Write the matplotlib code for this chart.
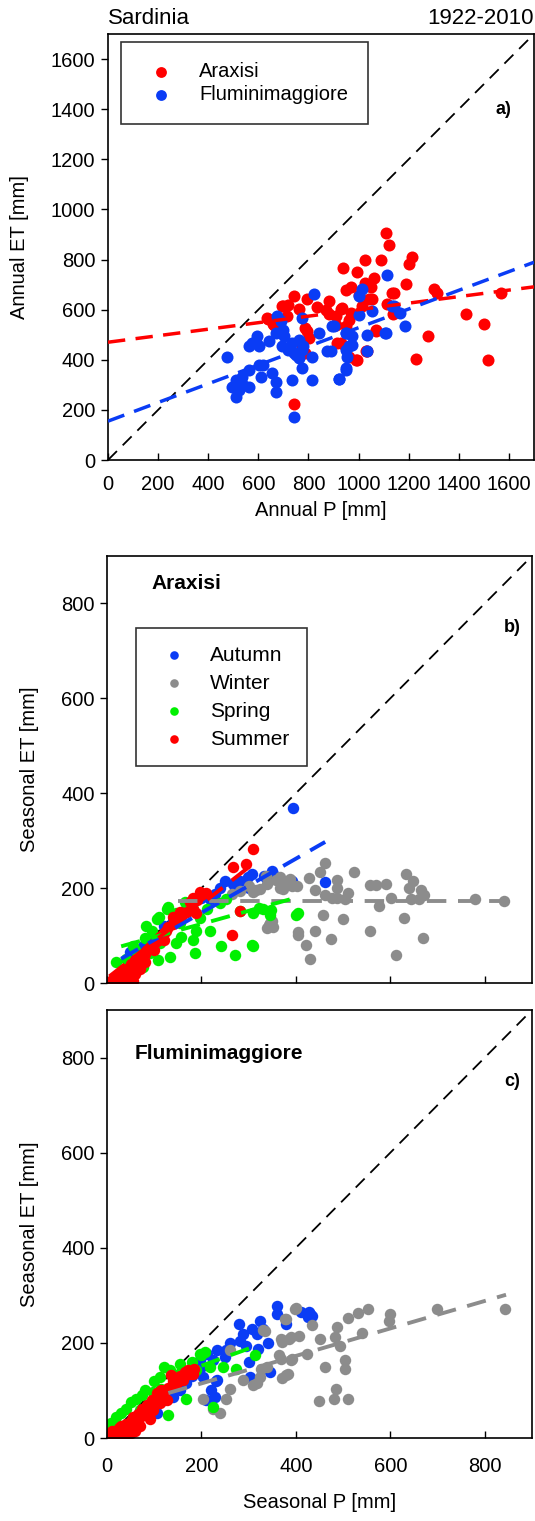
import matplotlib
matplotlib.use("Agg")
import matplotlib.pyplot as plt
import numpy as np

plt.rcParams["font.family"] = ["Liberation Sans", "DejaVu Sans"]

# ---- panel a: annual values (mm) ----
ara_p = [1111, 1121, 1088, 1024, 939, 994, 1061, 968, 948, 1024, 1054, 1134, 742, 795, 882,
         696, 835, 762, 928, 882, 968, 715, 636, 662, 788, 908, 948, 802, 915, 948, 775, 788,
         1028, 994, 1068, 742, 1214, 1201, 1190, 1300, 1314, 1570, 1143, 1041, 935, 1015, 1114,
         1137, 908, 961, 1430, 1502, 1068, 1278, 928, 1034, 988, 961, 1231, 1517, 638, 658, 699,
         793, 1000, 1050, 870, 720]
ara_et = [906, 856, 798, 798, 766, 749, 726, 692, 679, 708, 641, 668, 654, 641, 634,
          614, 611, 601, 601, 581, 587, 574, 567, 540, 527, 540, 534, 487, 466, 446, 453, 426,
          433, 399, 520, 222, 809, 782, 701, 681, 665, 668, 668, 641, 607, 614, 621,
          581, 574, 560, 583, 544, 513, 493, 466, 433, 399, 413, 403, 399, 562, 542, 615,
          516, 660, 690, 600, 620]
flu_p = [1114, 1014, 1001, 822, 1134, 1054, 1001, 775, 675, 689, 669, 895, 842, 948, 975,
         1034, 1107, 596, 576, 563, 602, 642, 702, 696, 735, 762, 775, 742, 762, 775, 815, 875,
         948, 955, 975, 948, 922, 1034, 476, 602, 563, 536, 509, 496, 523, 563, 509, 656, 669,
         669, 735, 815, 742, 1141, 1167, 1187, 1110, 902, 949, 961, 888, 948, 921, 620, 590,
         720, 750, 780, 700, 540, 610]
flu_et = [738, 681, 654, 664, 614, 594, 577, 567, 574, 554, 507, 534, 507, 507, 493,
          500, 507, 493, 466, 453, 453, 473, 493, 453, 466, 480, 440, 426, 406, 366, 413, 433,
          440, 413, 460, 366, 325, 433, 413, 379, 359, 332, 319, 292, 278, 292, 252, 346, 312,
          272, 319, 319, 170, 614, 587, 533, 507, 533, 507, 453, 433, 359, 325, 380, 470,
          440, 420, 455, 520, 300, 330]
# fitted lines: intercept, slope
ara_fit = [470, 0.13]
flu_fit = [155, 0.373]

# ---- panel b: Araxisi seasonal values (mm) ----
b_aut_p = [394, 352, 299, 281, 267, 338, 239, 228, 218, 154, 48, 76, 462, 350, 332, 308, 392,
           250, 270, 300, 200, 180, 120, 100, 140, 160, 60, 85]
b_aut_et = [369, 230, 223, 216, 208, 219, 201, 187, 176, 134, 66, 77, 213, 236, 226, 229, 215,
            215, 195, 200, 180, 160, 120, 100, 130, 150, 55, 80]
b_win_p = [387, 366, 338, 324, 310, 281, 264, 373, 402, 345, 352, 405, 462, 451, 427, 488, 524,
           488, 488, 510, 503, 476, 462, 441, 556, 570, 591, 633, 647, 640, 664, 671, 661, 643,
           601, 577, 780, 841, 458, 500, 629, 404, 441, 474, 556, 670, 422, 430, 612, 343, 350,
           339, 367, 381, 336, 357, 315, 301, 392]
b_win_et = [219, 223, 208, 198, 191, 194, 187, 198, 205, 127, 119, 102, 252, 233, 222, 218, 234,
            201, 179, 190, 176, 179, 186, 197, 206, 206, 208, 229, 215, 201, 197, 186, 176, 176,
            179, 162, 176, 172, 144, 135, 138, 108, 110, 92, 110, 94, 80, 51, 60, 122, 130,
            115, 201, 211, 226, 218, 197, 204, 204]
b_spr_p = [126, 147, 182, 211, 239, 253, 281, 310, 331, 345, 401, 196, 154, 189, 182, 147, 112,
           90, 108, 133, 76, 242, 186, 271, 310, 157, 218, 55, 83, 105, 322, 347, 404, 308, 60,
           40, 20, 80, 95, 110, 130, 165]
b_spr_et = [155, 148, 155, 155, 169, 176, 152, 148, 155, 144, 144, 137, 127, 109, 91, 84, 84,
            63, 48, 55, 34, 77, 63, 59, 77, 98, 109, 77, 120, 134, 158, 154, 147, 80, 70,
            50, 45, 95, 110, 140, 160, 170]
b_sum_p = [5, 12, 20, 25, 30, 35, 40, 45, 50, 55, 60, 65, 70, 75, 80, 85, 90, 95, 100, 105,
           110, 115, 120, 125, 130, 140, 150, 160, 170, 180, 190, 200, 210, 60, 70, 80, 30, 45,
           100, 120, 140, 175, 155, 55, 50, 310, 267, 295, 281, 264, 196, 182, 189]
b_sum_et = [3, 8, 5, 15, 22, 18, 30, 28, 40, 35, 48, 42, 55, 60, 62, 70, 75, 78, 85, 88,
            95, 100, 105, 110, 118, 125, 135, 145, 150, 160, 175, 185, 190, 20, 30, 45, 5, 10,
            70, 90, 140, 170, 150, 5, 15, 283, 244, 251, 152, 102, 191, 180, 148]
# fitted lines: (x start, x end, intercept, slope)
b_fits = {"Autumn": (30, 462, 34, 0.57), "Winter": (150, 845, 173, 0.0),
          "Spring": (30, 406, 69, 0.277), "Summer": (5, 310, 10, 0.78)}

# ---- panel c: Fluminimaggiore seasonal values (mm) ----
c_aut_p = [359, 324, 306, 288, 281, 317, 320, 295, 253, 232, 211, 196, 225, 232, 203, 302, 345,
           168, 154, 140, 196, 228, 105, 427, 434, 100, 120, 130, 150, 180, 200, 260, 280, 330,
           360, 380, 410, 430, 425, 300, 340, 250, 230, 210, 220]
c_aut_et = [278, 247, 229, 219, 205, 219, 188, 194, 184, 184, 177, 163, 163, 122, 128, 128, 139,
            115, 101, 87, 149, 87, 52, 264, 257, 60, 80, 100, 110, 130, 150, 200, 240, 230,
            260, 240, 265, 260, 255, 160, 200, 170, 120, 80, 100]
c_win_p = [380, 401, 334, 369, 390, 369, 390, 383, 338, 324, 309, 288, 260, 253, 204, 225, 239,
           260, 399, 376, 331, 435, 510, 531, 552, 600, 597, 539, 486, 483, 493, 451, 406, 385,
           371, 424, 392, 364, 462, 503, 504, 379, 371, 327, 318, 484, 481, 448, 510, 698, 843]
c_win_et = [250, 274, 226, 208, 212, 167, 163, 135, 149, 128, 111, 122, 104, 83, 83, 62, 52,
            184, 271, 250, 227, 238, 253, 262, 271, 260, 247, 220, 233, 212, 194, 208, 215, 208,
            201, 177, 167, 174, 149, 163, 146, 132, 127, 146, 115, 104, 83, 78, 81, 271, 271]
c_spr_p = [207, 154, 112, 115, 98, 62, 90, 69, 30, 9, 133, 158, 189, 218, 246, 274, 313, 168,
           129, 225, 196, 0, 5, 20, 40, 50, 75, 80, 100, 120, 140, 180, 200]
c_spr_et = [181, 156, 128, 104, 97, 83, 73, 59, 52, 31, 142, 142, 142, 149, 149, 146, 174, 83,
            49, 66, 177, 25, 20, 45, 60, 75, 90, 100, 120, 150, 135, 160, 175]
c_sum_p = [0, 5, 10, 15, 20, 25, 27, 30, 35, 37, 40, 45, 50, 55, 55, 60, 65, 70, 75, 80, 83, 85,
           90, 95, 98, 100, 105, 110, 112, 115, 120, 126, 130, 136, 140, 147, 150, 155, 161, 165,
           171, 175, 182, 185, 40, 50, 70, 60, 90]
c_sum_et = [7, 3, 15, 5, 10, 20, 10, 25, 3, 0, 30, 20, 35, 24, 45, 40, 50, 45, 60, 55, 52, 70,
            65, 80, 59, 75, 94, 85, 73, 100, 95, 80, 105, 132, 120, 111, 125, 130, 122, 138,
            142, 135, 135, 145, 5, 10, 25, 15, 40]
c_fits = {"Winter": (130, 845, 57, 0.289), "Spring": (200, 320, 80, 0.36)}

seasons = ["Autumn", "Winter", "Spring", "Summer"]
colors = {"Autumn": "#0a3cf5", "Winter": "#8c8c8c", "Spring": "#00f000", "Summer": "#ff0000"}
red = "#ff0000"
blue = "#0a3cf5"

fig = plt.figure(figsize=(5.35, 15.21), dpi=100)
W, H = 535, 1521


def add_axes(left, right, top, bottom):
    return fig.add_axes([left / W, 1 - bottom / H, (right - left) / W, (bottom - top) / H])


def style(ax, lim, step, xpad):
    ax.set_xlim(0, lim)
    ax.set_ylim(0, lim)
    ax.set_xticks(np.arange(0, lim + 1, step))
    ax.set_yticks(np.arange(0, lim + 1, step))
    ax.tick_params(axis="x", direction="in", length=5, width=1, labelsize=14.5, pad=xpad)
    ax.tick_params(axis="y", direction="out", length=5, width=1, labelsize=14.5, pad=4)
    for s in ax.spines.values():
        s.set_linewidth(1.2)
    ax.plot([0, lim], [0, lim], color="black", ls=(0, (7, 4.5)), lw=1.3, zorder=1)


# panel a
ax1 = add_axes(108, 534, 34, 460)
style(ax1, 1700, 200, 11)
ax1.scatter(ara_p, ara_et, s=75, color=red, label="Araxisi", zorder=2, linewidths=0)
ax1.scatter(flu_p, flu_et, s=75, color=blue, label="Fluminimaggiore", zorder=3, linewidths=0)
xx = np.array([0, 1700])
ax1.plot(xx, ara_fit[0] + ara_fit[1] * xx, color=red, ls=(0, (5, 3)), lw=2.5, zorder=4)
ax1.plot(xx, flu_fit[0] + flu_fit[1] * xx, color=blue, ls=(0, (5, 3)), lw=2.5, zorder=4)
ax1.set_xlabel("Annual P [mm]", fontsize=14.5, labelpad=5)
ax1.set_ylabel("Annual ET [mm]", fontsize=14.5, labelpad=16)
leg = ax1.legend(loc="upper left", bbox_to_anchor=(0.03, 0.982), fontsize=14.5, frameon=True,
                 fancybox=False, edgecolor="black", handletextpad=0.9, borderpad=1.0,
                 labelspacing=0.2, scatterpoints=1, borderaxespad=0, markerscale=0.9)
leg.get_frame().set_linewidth(1.2)
ax1.text(0.0, 1.012, "Sardinia", transform=ax1.transAxes, fontsize=16, ha="left", va="bottom")
ax1.text(1.0, 1.012, "1922-2010", transform=ax1.transAxes, fontsize=16, ha="right", va="bottom")
ax1.text(1580, 1398, "a)", fontsize=13, fontweight="bold", ha="center", va="center")


def seasonal(ax, data, fits, title, tag, ty):
    for name in seasons:
        p, et = data[name]
        ax.scatter(p, et, s=68, color=colors[name], label=name, zorder=2, linewidths=0)
    for name, (x0, x1, a, b) in fits.items():
        xs = np.array([x0, x1])
        ax.plot(xs, a + b * xs, color=colors[name], ls=(0, (5, 3)), lw=2.8, zorder=4)
    ax.text(title_x[title], ty, title, fontsize=15, fontweight="bold", ha="left", va="center")
    ax.text(858, 750, tag, fontsize=13, fontweight="bold", ha="center", va="center")
    ax.set_ylabel("Seasonal ET [mm]", fontsize=14.5, labelpad=16)


title_x = {"Araxisi": 95, "Fluminimaggiore": 58}

# panel b
ax2 = add_axes(107, 532, 556, 983)
style(ax2, 900, 200, 11)
seasonal(ax2, {"Autumn": (b_aut_p, b_aut_et), "Winter": (b_win_p, b_win_et),
               "Spring": (b_spr_p, b_spr_et), "Summer": (b_sum_p, b_sum_et)},
         b_fits, "Araxisi", "b)", 842)
ax2.set_xticklabels([])
leg2 = ax2.legend(loc="upper left", bbox_to_anchor=(0.068, 0.831), fontsize=15, frameon=True,
                  fancybox=False, edgecolor="black", handletextpad=0.7, borderpad=0.85,
                  labelspacing=0.43, scatterpoints=1, borderaxespad=0, markerscale=0.75)
leg2.get_frame().set_linewidth(1.2)

# panel c
ax3 = add_axes(107, 532, 1010, 1438)
style(ax3, 900, 200, 14)
seasonal(ax3, {"Autumn": (c_aut_p, c_aut_et), "Winter": (c_win_p, c_win_et),
               "Spring": (c_spr_p, c_spr_et), "Summer": (c_sum_p, c_sum_et)},
         c_fits, "Fluminimaggiore", "c)", 809)
ax3.set_xlabel("Seasonal P [mm]", fontsize=14.5, labelpad=12)

fig.savefig("out.png", dpi=100)
